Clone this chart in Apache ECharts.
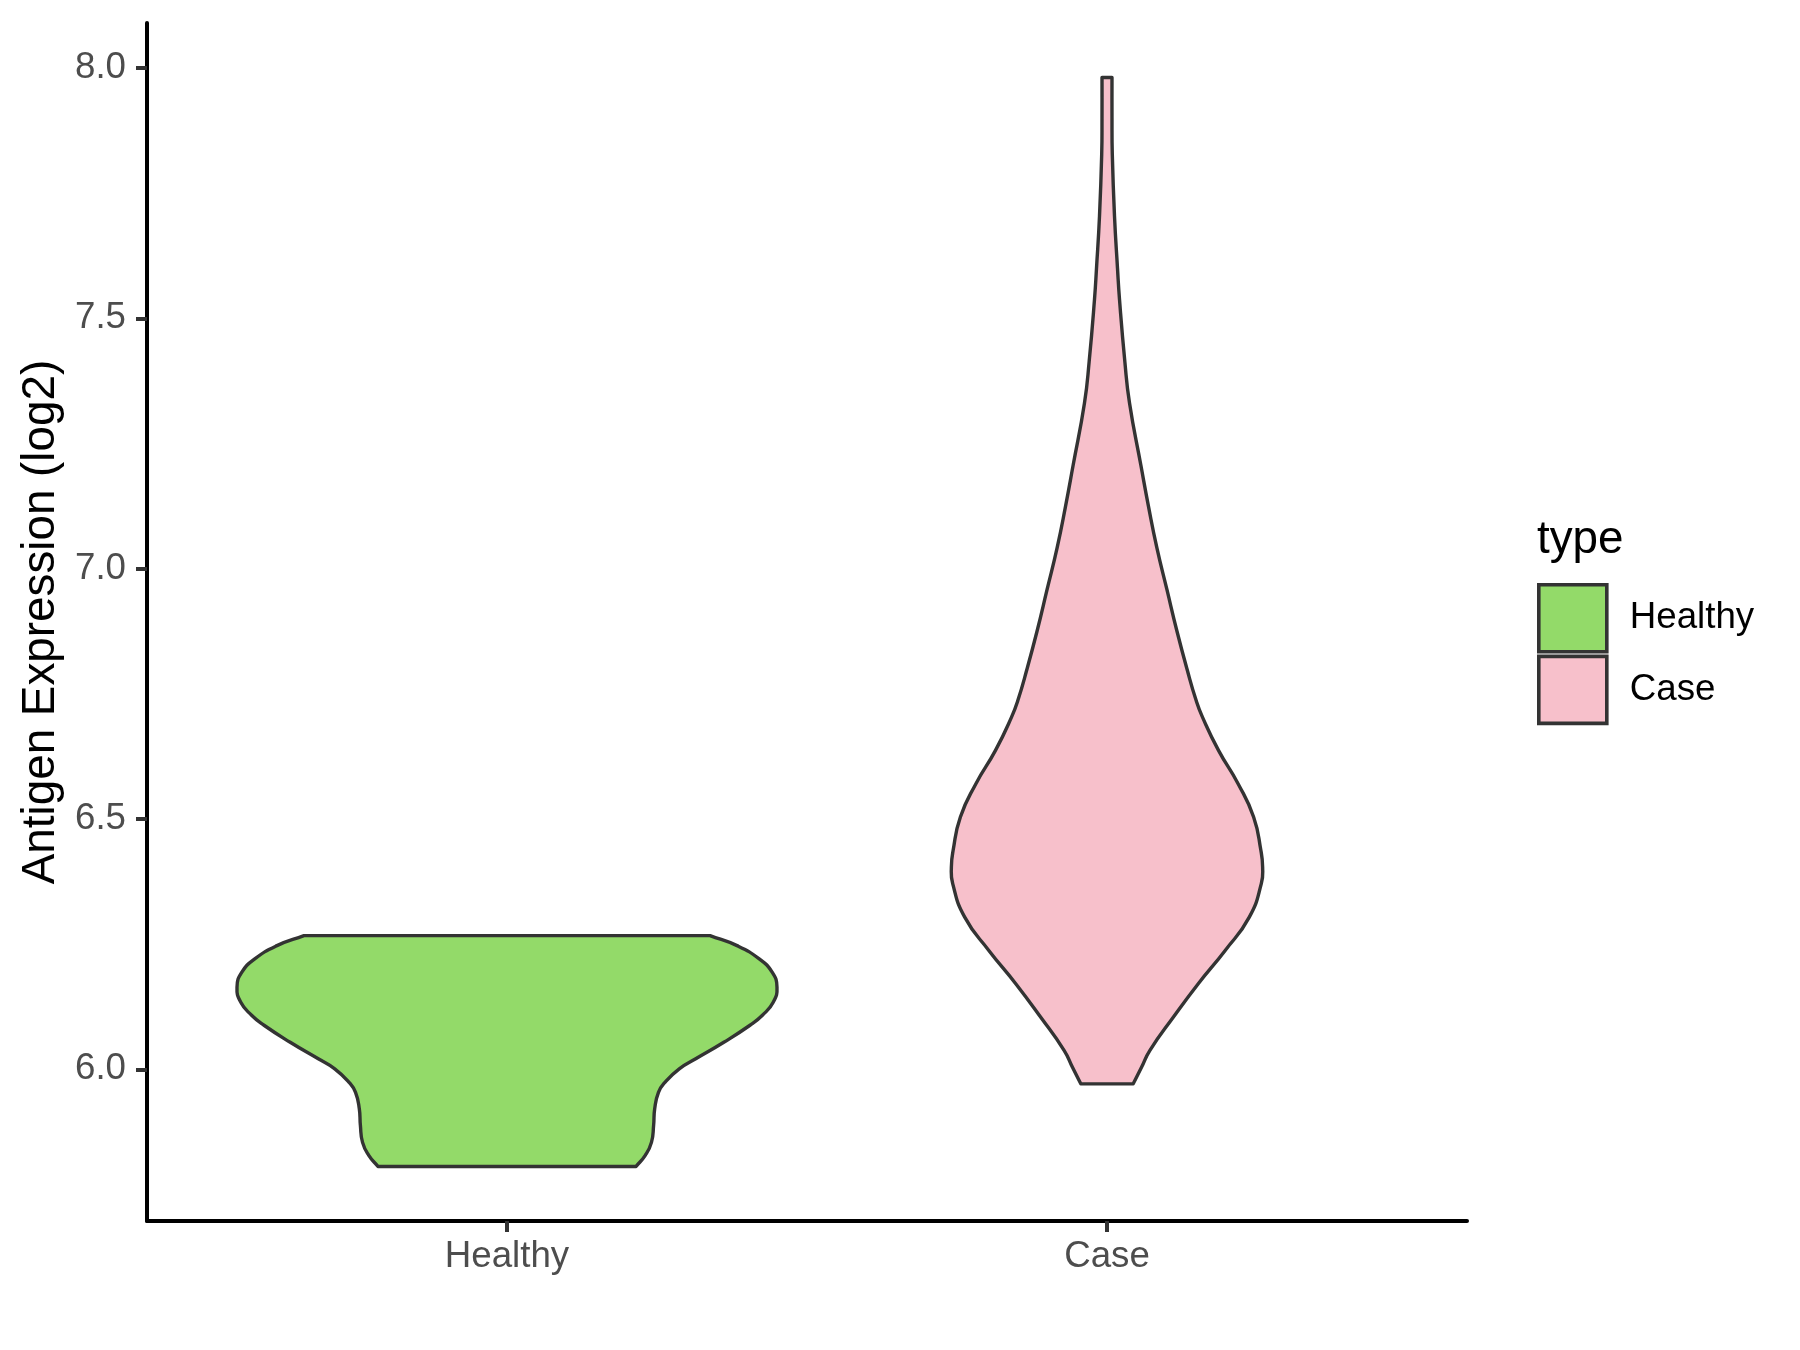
<!DOCTYPE html>
<html>
<head>
<meta charset="utf-8">
<script src="https://cdn.jsdelivr.net/npm/echarts@6/dist/echarts.min.js"></script>
<style>
html, body { margin: 0; padding: 0; background: #ffffff; }
#chart { width: 1800px; height: 1350px; }
</style>
</head>
<body>
<div id="chart"></div>
<script>
// ---- data ----
const categories = ['Healthy', 'Case'];
const yTicks = [6.0, 6.5, 7.0, 7.5, 8.0];
// violin outlines: expression level and relative density (1 = widest violin)
const healthyLevels  = [6.267, 6.247, 6.221, 6.194, 6.164, 6.134, 6.108, 6.088, 6.054, 6.021, 6.001, 5.974, 5.954, 5.921, 5.888, 5.854, 5.828, 5.806];
const healthyDensity = [0.752, 0.852, 0.933, 0.982, 1.000, 0.986, 0.946, 0.900, 0.803, 0.699, 0.638, 0.585, 0.561, 0.547, 0.543, 0.535, 0.512, 0.478];
const caseLevels  = [7.981, 7.900, 7.828, 7.704, 7.600, 7.538, 7.414, 7.331, 7.207, 7.124, 7.042, 6.959, 6.876, 6.800, 6.737, 6.703, 6.637, 6.570, 6.504, 6.437, 6.404, 6.371, 6.304, 6.237, 6.171, 6.104, 6.038, 6.004, 5.971];
const caseDensity = [0.0185, 0.0185, 0.0196, 0.0278, 0.0389, 0.0463, 0.066, 0.0834, 0.1253, 0.1538, 0.1846, 0.2216, 0.2587, 0.296, 0.330, 0.354, 0.413, 0.486, 0.543, 0.570, 0.5764, 0.5715, 0.527, 0.437, 0.338, 0.2454, 0.159, 0.1279, 0.0971];

// ---- styling ----
const FONT = "'Liberation Sans', Arial, Helvetica, sans-serif";
const HALF_WIDTH = 0.45;           // half of violin width (0.9) in category units
const OUTLINE = '#333333';
const fills = { Healthy: '#93DA69', Case: '#F7C0CB' };

function violinRenderer(levels, density, center) {
  return function (params, api) {
    const n = levels.length;
    const pts = [];
    for (let i = 0; i < n; i++) {
      const p = api.coord([center - density[i] * HALF_WIDTH, levels[i]]);
      pts.push(p);
      if (i === 0 || i === n - 1) pts.push(p.slice());
    }
    for (let i = n - 1; i >= 0; i--) {
      const p = api.coord([center + density[i] * HALF_WIDTH, levels[i]]);
      pts.push(p);
      if (i === 0 || i === n - 1) pts.push(p.slice());
    }
    return {
      type: 'polygon',
      shape: { points: pts, smooth: 0.5 },
      style: { fill: api.visual('color'), stroke: OUTLINE, lineWidth: 3.4, lineJoin: 'round' }
    };
  };
}

const chart = echarts.init(document.getElementById('chart'), null, { renderer: 'canvas' });

const option = {
  animation: false,
  backgroundColor: '#ffffff',
  title: {
    text: 'type',
    left: 1537,
    top: 517,
    padding: 0,
    textStyle: { fontFamily: FONT, fontSize: 45.8, fontWeight: 'normal', color: '#000000' }
  },
  legend: {
    orient: 'vertical',
    left: 1537,
    top: 583,
    padding: 0,
    itemWidth: 68,
    itemHeight: 67,
    itemGap: 1,
    icon: 'rect',
    itemStyle: { borderColor: OUTLINE, borderWidth: 3.6 },
    textStyle: { fontFamily: FONT, fontSize: 36.7, color: '#000000', padding: [0, 0, 0, 18] },
    data: categories
  },
  grid: { left: 147, right: 333, top: 23, bottom: 129, containLabel: false },
  xAxis: {
    type: 'value',
    min: 0.4,
    max: 2.6,
    splitLine: { show: false },
    axisLine: { show: true, onZero: false, lineStyle: { color: '#000000', width: 4 } },
    axisTick: { show: true, length: 11, lineStyle: { color: OUTLINE, width: 4 }, customValues: [1, 2] },
    axisLabel: {
      show: true, margin: 17, color: '#4D4D4D', fontFamily: FONT, fontSize: 36.7,
      customValues: [1, 2],
      formatter: function (v) { return categories[Math.round(v) - 1] || ''; }
    }
  },
  yAxis: {
    type: 'value',
    min: 5.697,
    max: 8.09,
    name: 'Antigen Expression (log2)',
    nameLocation: 'middle',
    nameGap: 83,
    nameTextStyle: { fontFamily: FONT, fontSize: 45.8, color: '#000000' },
    splitLine: { show: false },
    axisLine: { show: true, onZero: false, lineStyle: { color: '#000000', width: 4 } },
    axisTick: { show: true, length: 11, lineStyle: { color: OUTLINE, width: 4 }, customValues: yTicks },
    axisLabel: {
      show: true, margin: 21, color: '#4D4D4D', fontFamily: FONT, fontSize: 36.7,
      customValues: yTicks,
      formatter: function (v) { return v.toFixed(1); }
    }
  },
  series: [
    {
      name: 'Healthy',
      type: 'custom',
      itemStyle: { color: fills.Healthy, borderColor: OUTLINE },
      renderItem: violinRenderer(healthyLevels, healthyDensity, 1),
      data: [[1, healthyLevels[0]]]
    },
    {
      name: 'Case',
      type: 'custom',
      itemStyle: { color: fills.Case, borderColor: OUTLINE },
      renderItem: violinRenderer(caseLevels, caseDensity, 2),
      data: [[2, caseLevels[0]]]
    }
  ]
};

chart.setOption(option);
</script>
</body>
</html>
